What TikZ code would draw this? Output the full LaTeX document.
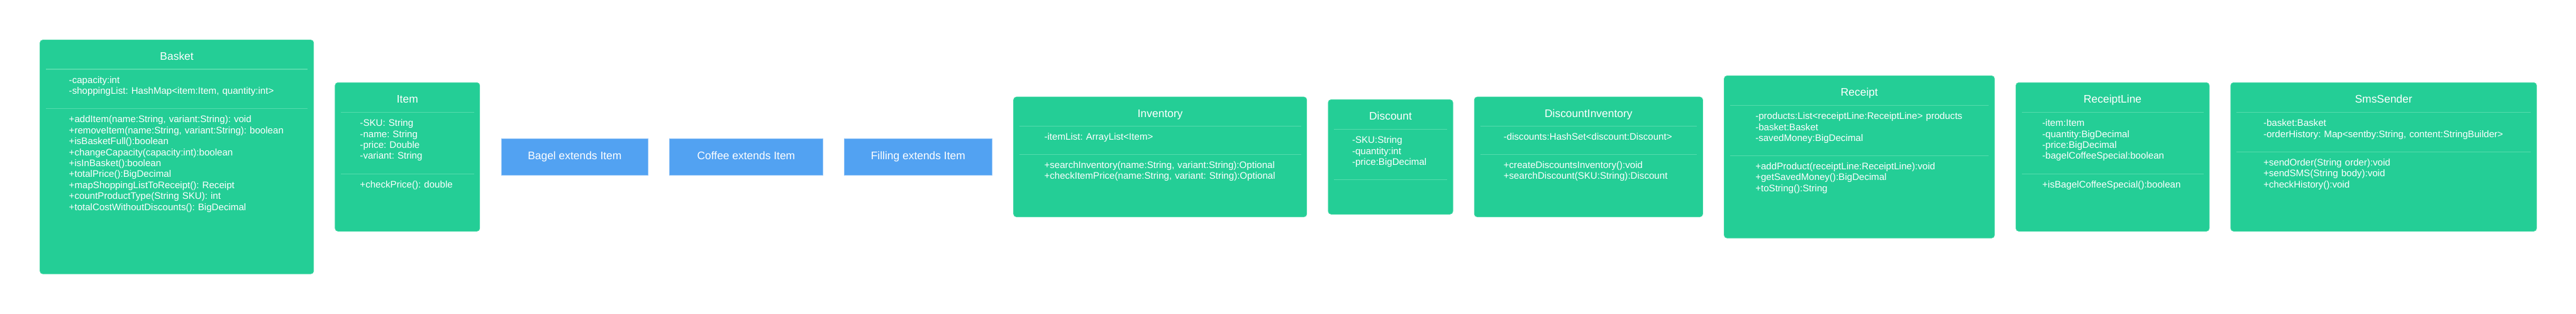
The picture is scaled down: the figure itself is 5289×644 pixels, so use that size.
\documentclass[tikz,border=0pt]{standalone}
\usepackage{fontspec}
\setmainfont{Liberation Sans}
\usetikzlibrary{positioning,calc}
\frenchspacing
\definecolor{clsgreen}{HTML}{24CE96}
\definecolor{clsedge}{HTML}{3FD6A3}
\definecolor{clssep}{HTML}{55DBAC}
\definecolor{extblue}{HTML}{52A2F2}
\definecolor{extedge}{HTML}{8EC2F7}
\tikzset{
  cls/.style={
    draw=clsedge, fill=clsgreen, rectangle, rounded corners=6pt,
    line width=1pt, inner sep=0pt, outer sep=0pt
  },
  ext/.style={
    draw=extedge, fill=extblue, rectangle, line width=1pt, inner sep=0pt,
    outer sep=0pt, minimum height=75pt, text=white,
    font=\fontsize{22.5}{27}\selectfont, text height=16.1pt, text depth=4.7pt
  },
  ttl/.style={
    anchor=base, inner sep=0pt, text=white, font=\fontsize{22.5}{27}\selectfont
  },
  lst/.style={
    anchor=base west, align=left, inner sep=0pt, text width=600pt,
    text=white, font=\fontsize{19.5}{22.5}\selectfont
  },
  sep/.style={draw=clssep, line width=1.5pt},
}

\begin{document}
\begin{tikzpicture}[x=1pt, y=1pt, node distance=44pt]
  \useasboundingbox (0,0) rectangle (5289,-644);

  % boxes, left to right
  \node[cls, minimum width=562pt, minimum height=480pt] (bk) at (363,-322) {};
  \node[cls, minimum width=297pt, minimum height=305pt, right=of bk] (it) {};
  \node[ext, minimum width=302pt, right=of it] (bg) {Bagel extends Item};
  \node[ext, minimum width=314pt, right=of bg] (cf) {Coffee extends Item};
  \node[ext, minimum width=304pt, right=of cf] (fl) {Filling extends Item};
  \node[cls, minimum width=602pt, minimum height=246pt, right=of fl] (inv) {};
  \node[cls, minimum width=256pt, minimum height=235pt, right=of inv] (dc) {};
  \node[cls, minimum width=469pt, minimum height=246pt, right=of dc] (dinv) {};
  \node[cls, minimum width=555pt, minimum height=333pt, right=of dinv] (rc) {};
  \node[cls, minimum width=397pt, minimum height=305pt, right=of rc] (rl) {};
  \node[cls, minimum width=628pt, minimum height=305pt, right=of rl] (sms) {};

  % Basket
  \node[ttl] (bk-t) at ($(bk.north)+(0,-41.5)$) {Basket};
  \draw[sep] ($(bk.north west)+(12,-60)$) -- ($(bk.north east)+(-12,-60)$);
  \node[lst] (bk-a) at ($(bk.north west)+(59.5,-88.5)$)
    {-capacity:int\\-shoppingList: HashMap<item:Item, quantity:int>};
  \draw[sep] ($(bk.north west)+(12,-141)$) -- ($(bk.north east)+(-12,-141)$);
  \node[lst] (bk-m) at ($(bk.north west)+(59.5,-169.5)$)
    {+addItem(name:String, variant:String): void\\
     +removeItem(name:String, variant:String): boolean\\
     +isBasketFull():boolean\\
     +changeCapacity(capacity:int):boolean\\
     +isInBasket():boolean\\
     +totalPrice():BigDecimal\\
     +mapShoppingListToReceipt(): Receipt\\
     +countProductType(String SKU): int\\
     +totalCostWithoutDiscounts(): BigDecimal};

  % Item
  \node[ttl] (it-t) at ($(it.north)+(0,-42)$) {Item};
  \draw[sep] ($(it.north west)+(12,-61)$) -- ($(it.north east)+(-12,-61)$);
  \node[lst] (it-a) at ($(it.north west)+(51,-89.5)$)
    {-SKU: String\\-name: String\\-price: Double\\-variant: String};
  \draw[sep] ($(it.north west)+(12,-187)$) -- ($(it.north east)+(-12,-187)$);
  \node[lst] (it-m) at ($(it.north west)+(51,-215.5)$) {+checkPrice(): double};

  % Inventory
  \node[ttl] (inv-t) at ($(inv.north)+(0,-42)$) {Inventory};
  \draw[sep] ($(inv.north west)+(12,-60)$) -- ($(inv.north east)+(-12,-60)$);
  \node[lst] (inv-a) at ($(inv.north west)+(63,-88.5)$) {-itemList: ArrayList<Item>};
  \draw[sep] ($(inv.north west)+(12,-118)$) -- ($(inv.north east)+(-12,-118)$);
  \node[lst] (inv-m) at ($(inv.north west)+(63,-146.5)$)
    {+searchInventory(name:String, variant:String):Optional\\
     +checkItemPrice(name:String, variant: String):Optional};

  % Discount
  \node[ttl] (dc-t) at ($(dc.north)+(0,-41.5)$) {Discount};
  \draw[sep] ($(dc.north west)+(12,-61)$) -- ($(dc.north east)+(-12,-61)$);
  \node[lst] (dc-a) at ($(dc.north west)+(49,-89.5)$)
    {-SKU:String\\-quantity:int\\-price:BigDecimal};
  \draw[sep] ($(dc.north west)+(12,-164)$) -- ($(dc.north east)+(-12,-164)$);

  % DiscountInventory
  \node[ttl] (dinv-t) at ($(dinv.north)+(0,-42)$) {DiscountInventory};
  \draw[sep] ($(dinv.north west)+(12,-60)$) -- ($(dinv.north east)+(-12,-60)$);
  \node[lst] (dinv-a) at ($(dinv.north west)+(60,-88.5)$)
    {-discounts:HashSet<discount:Discount>};
  \draw[sep] ($(dinv.north west)+(12,-118)$) -- ($(dinv.north east)+(-12,-118)$);
  \node[lst] (dinv-m) at ($(dinv.north west)+(60,-146.5)$)
    {+createDiscountsInventory():void\\+searchDiscount(SKU:String):Discount};

  % Receipt
  \node[ttl] (rc-t) at ($(rc.north)+(0,-41.5)$) {Receipt};
  \draw[sep] ($(rc.north west)+(12,-61)$) -- ($(rc.north east)+(-12,-61)$);
  \node[lst] (rc-a) at ($(rc.north west)+(64,-89.5)$)
    {-products:List<receiptLine:ReceiptLine> products\\
     -basket:Basket\\-savedMoney:BigDecimal};
  \draw[sep] ($(rc.north west)+(12,-164)$) -- ($(rc.north east)+(-12,-164)$);
  \node[lst] (rc-m) at ($(rc.north west)+(64,-192.5)$)
    {+addProduct(receiptLine:ReceiptLine):void\\
     +getSavedMoney():BigDecimal\\+toString():String};

  % ReceiptLine
  \node[ttl] (rl-t) at ($(rl.north)+(0,-42)$) {ReceiptLine};
  \draw[sep] ($(rl.north west)+(12,-61)$) -- ($(rl.north east)+(-12,-61)$);
  \node[lst] (rl-a) at ($(rl.north west)+(54,-89.5)$)
    {-item:Item\\-quantity:BigDecimal\\-price:BigDecimal\\-bagelCoffeeSpecial:boolean};
  \draw[sep] ($(rl.north west)+(12,-187)$) -- ($(rl.north east)+(-12,-187)$);
  \node[lst] (rl-m) at ($(rl.north west)+(54,-215.5)$) {+isBagelCoffeeSpecial():boolean};

  % SmsSender
  \node[ttl] (sms-t) at ($(sms.north)+(0,-42)$) {SmsSender};
  \draw[sep] ($(sms.north west)+(12,-61)$) -- ($(sms.north east)+(-12,-61)$);
  \node[lst] (sms-a) at ($(sms.north west)+(67,-89.5)$)
    {-basket:Basket\\-orderHistory: Map<sentby:String, content:StringBuilder>};
  \draw[sep] ($(sms.north west)+(12,-142)$) -- ($(sms.north east)+(-12,-142)$);
  \node[lst] (sms-m) at ($(sms.north west)+(67,-170.5)$)
    {+sendOrder(String order):void\\+sendSMS(String body):void\\+checkHistory():void};
\end{tikzpicture}
\end{document}
